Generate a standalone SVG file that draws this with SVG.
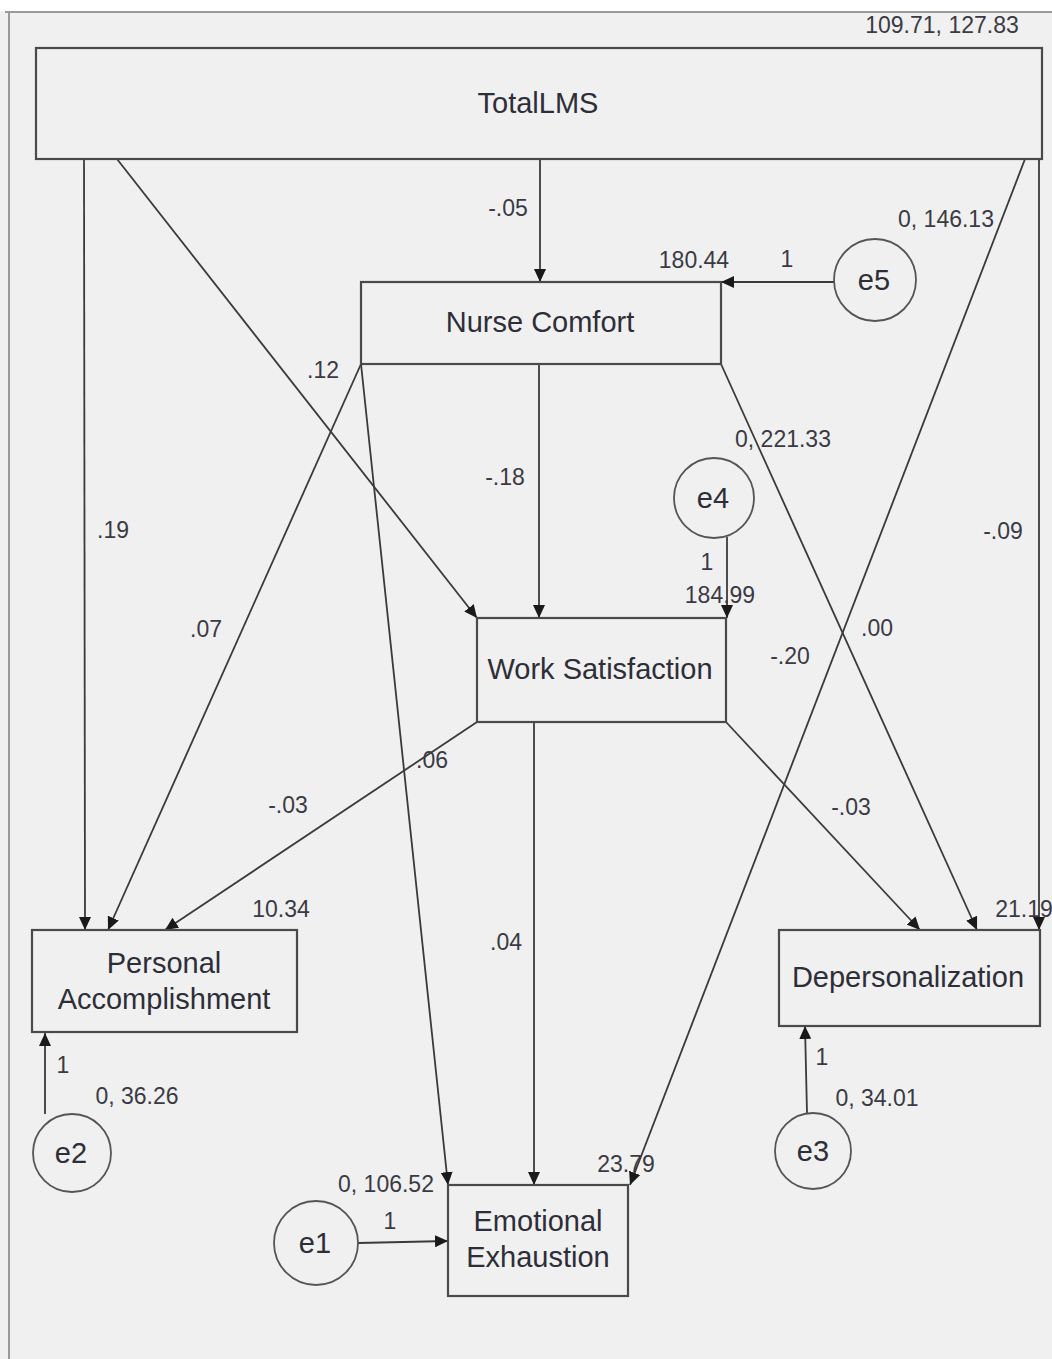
<svg xmlns="http://www.w3.org/2000/svg" width="1052" height="1359" viewBox="0 0 1052 1359">
<defs>
<marker id="arr" markerUnits="userSpaceOnUse" markerWidth="14" markerHeight="12" refX="13" refY="6" orient="auto">
<path d="M0,0 L13,6 L0,12 Z" fill="#1a1a1a"/>
</marker>
<style>
.box{fill:none;stroke:#4a4a4a;stroke-width:2.2}
.circ{fill:none;stroke:#555;stroke-width:1.8}
.nt{font-family:"Liberation Sans",Arial,sans-serif;font-size:29px;fill:#2e2e38;text-anchor:middle}
.lb{font-family:"Liberation Sans",Arial,sans-serif;font-size:23px;fill:#3a3a44;text-anchor:middle}
.cn line{stroke:#3a3a3a;stroke-width:1.8;marker-end:url(#arr)}
</style>
</defs>
<rect x="0" y="0" width="1052" height="1359" fill="#ffffff"/>
<rect x="0" y="11" width="1052" height="1348" fill="#f0f0f0"/>
<path d="M5,12 H1052 M9,12 V1359" stroke="#9a9a9a" stroke-width="2" fill="none"/>

<g class="cn" id="connectors">
<line x1="540" y1="159" x2="540" y2="282"/>
<line x1="84" y1="159" x2="85" y2="930"/>
<line x1="117" y1="159" x2="477" y2="618"/>
<line x1="1039" y1="159" x2="1039" y2="930"/>
<line x1="1025" y1="159" x2="630" y2="1185"/>
<line x1="835" y1="282" x2="721" y2="282"/>
<line x1="361" y1="364" x2="108" y2="930"/>
<line x1="361" y1="364" x2="448" y2="1185"/>
<line x1="539" y1="364" x2="539" y2="618"/>
<line x1="721" y1="364" x2="977" y2="930"/>
<line x1="727" y1="537" x2="727" y2="618"/>
<line x1="477" y1="722" x2="165" y2="930"/>
<line x1="534" y1="722" x2="534" y2="1185"/>
<line x1="726" y1="722" x2="920" y2="930"/>
<line x1="45" y1="1114" x2="45" y2="1033"/>
<line x1="807" y1="1113" x2="805" y2="1026"/>
<line x1="358" y1="1243" x2="448" y2="1241"/>
</g>

<g id="TotalLMS"><rect class="box" x="36" y="48" width="1006" height="111"/><text class="nt" x="538" y="113">TotalLMS</text></g>
<g id="NurseComfort"><rect class="box" x="361" y="282" width="360" height="82"/><text class="nt" x="540" y="332">Nurse Comfort</text></g>
<g id="WorkSatisfaction"><rect class="box" x="477" y="618" width="249" height="104"/><text class="nt" x="600" y="679">Work Satisfaction</text></g>
<g id="PersonalAccomplishment"><rect class="box" x="32" y="930" width="265" height="102"/><text class="nt" x="164" y="973">Personal</text><text class="nt" x="164" y="1009">Accomplishment</text></g>
<g id="Depersonalization"><rect class="box" x="779" y="930" width="261" height="96"/><text class="nt" x="908" y="987">Depersonalization</text></g>
<g id="EmotionalExhaustion"><rect class="box" x="448" y="1185" width="180" height="111"/><text class="nt" x="538" y="1231">Emotional</text><text class="nt" x="538" y="1267">Exhaustion</text></g>

<g id="e5"><circle class="circ" cx="875" cy="280" r="41"/><text class="nt" x="874" y="290">e5</text></g>
<g id="e4"><circle class="circ" cx="714" cy="498" r="40"/><text class="nt" x="713" y="508">e4</text></g>
<g id="e2"><circle class="circ" cx="72" cy="1153" r="39"/><text class="nt" x="71" y="1163">e2</text></g>
<g id="e3"><circle class="circ" cx="813" cy="1151" r="38"/><text class="nt" x="813" y="1161">e3</text></g>
<g id="e1"><circle class="circ" cx="316" cy="1243" r="42"/><text class="nt" x="315" y="1253">e1</text></g>

<g id="labels">
<text class="lb" x="942" y="33">109.71, 127.83</text>
<text class="lb" x="508" y="216">-.05</text>
<text class="lb" x="694" y="268">180.44</text>
<text class="lb" x="787" y="267">1</text>
<text class="lb" x="946" y="227">0, 146.13</text>
<text class="lb" x="323" y="378">.12</text>
<text class="lb" x="783" y="447">0, 221.33</text>
<text class="lb" x="505" y="485">-.18</text>
<text class="lb" x="113" y="538">.19</text>
<text class="lb" x="1003" y="539">-.09</text>
<text class="lb" x="707" y="570">1</text>
<text class="lb" x="720" y="603">184.99</text>
<text class="lb" x="206" y="637">.07</text>
<text class="lb" x="877" y="636">.00</text>
<text class="lb" x="790" y="664">-.20</text>
<text class="lb" x="432" y="768">.06</text>
<text class="lb" x="288" y="813">-.03</text>
<text class="lb" x="851" y="815">-.03</text>
<text class="lb" x="281" y="917">10.34</text>
<text class="lb" x="506" y="950">.04</text>
<text class="lb" x="1024" y="917">21.19</text>
<text class="lb" x="63" y="1073">1</text>
<text class="lb" x="137" y="1104">0, 36.26</text>
<text class="lb" x="822" y="1065">1</text>
<text class="lb" x="877" y="1106">0, 34.01</text>
<text class="lb" x="626" y="1172">23.79</text>
<text class="lb" x="386" y="1192">0, 106.52</text>
<text class="lb" x="390" y="1229">1</text>
</g>
</svg>
